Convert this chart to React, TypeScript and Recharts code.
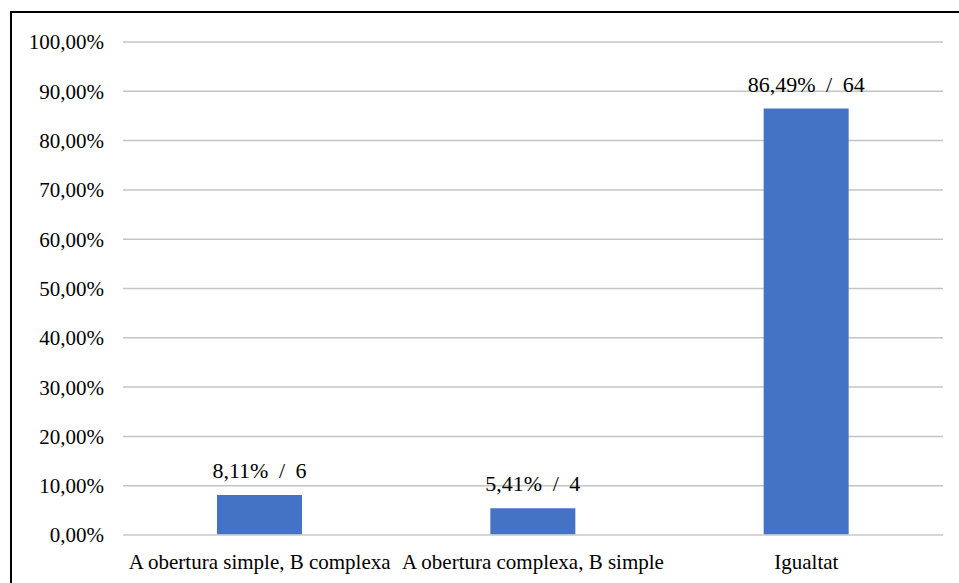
import React from "react";
import { BarChart, Bar, XAxis, YAxis, CartesianGrid, LabelList } from "recharts";

const categories = [
  "A obertura simple, B complexa",
  "A obertura complexa, B simple",
  "Igualtat",
];
const percentages = [8.11, 5.41, 86.49];
const counts = [6, 4, 64];
const yTicks = [0, 10, 20, 30, 40, 50, 60, 70, 80, 90, 100];

const FONT = '"Liberation Serif", "Times New Roman", Tinos, "DejaVu Serif", serif';

const formatPct = (v: number) => v.toFixed(2).replace(".", ",") + "%";

const data = categories.map((name, i) => ({
  name,
  pct: percentages[i],
  label: `${formatPct(percentages[i])} / ${counts[i]}`,
}));

const CategoryTick = (props: any) => {
  const { x, y, payload } = props;
  return (
    <text x={x} y={y} dy={34} textAnchor="middle" style={{ fontFamily: FONT }} fontSize={21} fill="#000">
      {payload.value}
    </text>
  );
};

const ValueLabel = (props: any) => {
  const { x, y, width, value } = props;
  return (
    <text
      x={Number(x) + Number(width) / 2}
      y={Number(y) - 17}
      textAnchor="middle"
      fontSize={22}
      fill="#000"
      style={{ fontFamily: FONT, wordSpacing: "5px" }}
    >
      {value}
    </text>
  );
};

export default function App() {
  return (
    <div
      style={{
        position: "absolute",
        left: 0,
        top: 0,
        width: 959,
        height: 583,
        overflow: "hidden",
        background: "#fff",
        fontFamily: FONT,
      }}
    >
      <div
        style={{
          position: "absolute",
          left: 10,
          top: 11,
          width: 1000,
          height: 1000,
          border: "2px solid #000",
        }}
      />
      <div style={{ position: "absolute", left: 0, top: 0 }}>
        <BarChart
          width={959}
          height={583}
          data={data}
          margin={{ top: 42, right: 16, bottom: 0, left: 0 }}
          style={{ fontFamily: FONT }}
        >
          <CartesianGrid vertical={false} stroke="#c4c4c4" strokeWidth={1.5} />
          <XAxis
            dataKey="name"
            height={48}
            interval={0}
            tickLine={false}
            tickSize={0}
            tickMargin={0}
            axisLine={{ stroke: "#d9d9d9", strokeWidth: 1.5 }}
            tick={<CategoryTick />}
          />
          <YAxis
            width={123}
            domain={[0, 100]}
            ticks={yTicks}
            interval={0}
            tickFormatter={formatPct}
            tickLine={false}
            axisLine={false}
            tickSize={0}
            tickMargin={19}
            tick={{ fontSize: 21, fill: "#000", style: { fontFamily: FONT } }}
          />
          <Bar dataKey="pct" fill="#4472C4" barSize={85} isAnimationActive={false}>
            <LabelList dataKey="label" content={<ValueLabel />} />
          </Bar>
        </BarChart>
      </div>
    </div>
  );
}
